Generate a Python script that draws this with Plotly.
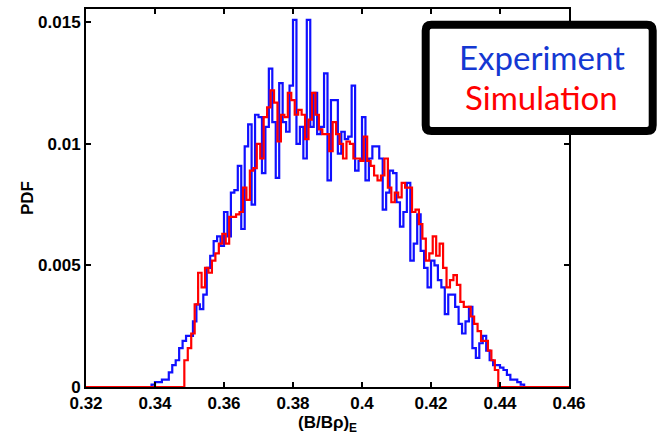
import plotly.graph_objects as go

# ---- data ----
bin_width = 0.001

exp_start = 0.339
exp_pdf = [
    0.0001, 0.0002, 0.0002, 0.0003, 0.0003, 0.0006, 0.0009, 0.0011, 0.0016, 0.0019,
    0.0021, 0.0021, 0.0027, 0.0034, 0.0032, 0.0038, 0.0049, 0.0054, 0.0060, 0.0062,
    0.0058, 0.0072, 0.0062, 0.0080, 0.0081, 0.0091, 0.0065, 0.0099, 0.0108, 0.0075,
    0.0112, 0.0111, 0.0088, 0.0107, 0.0131, 0.0109, 0.0086, 0.0125, 0.0109, 0.0105,
    0.0124, 0.0151, 0.0100, 0.0107, 0.0094, 0.0151, 0.0107, 0.0121, 0.0104, 0.0107,
    0.0129, 0.0085, 0.0118, 0.0118, 0.0096, 0.0105, 0.0102, 0.0103, 0.0124, 0.0089,
    0.0093, 0.0111, 0.0085, 0.0094, 0.0099, 0.0099, 0.0094, 0.0073, 0.0080, 0.0089,
    0.0088, 0.0076, 0.0066, 0.0072, 0.0084, 0.0052, 0.0059, 0.0071, 0.0056, 0.0049,
    0.0041, 0.0052, 0.0050, 0.0044, 0.0041, 0.0030, 0.0038, 0.0038, 0.0033, 0.0026,
    0.0022, 0.0027, 0.0033, 0.0016, 0.0012, 0.0018, 0.0021, 0.0015, 0.0011, 0.0009,
    0.0009, 0.0008, 0.0007, 0.0005, 0.0003, 0.0003, 0.0002, 0.0001,
]

sim_start = 0.3485
sim_pdf = [
    0.0011, 0.0016, 0.0022, 0.0034, 0.0047, 0.0041, 0.0049, 0.0047, 0.0052, 0.0055,
    0.0059, 0.0063, 0.0059, 0.0070, 0.0070, 0.0071, 0.0072, 0.0082, 0.0077, 0.0089,
    0.0090, 0.0100, 0.0094, 0.0111, 0.0115, 0.0122, 0.0117, 0.0101, 0.0112, 0.0111,
    0.0121, 0.0118, 0.0112, 0.0114, 0.0112, 0.0102, 0.0110, 0.0121, 0.0112, 0.0106,
    0.0104, 0.0104, 0.0097, 0.0109, 0.0104, 0.0100, 0.0094, 0.0101, 0.0100, 0.0094,
    0.0094, 0.0093, 0.0103, 0.0093, 0.0091, 0.0087, 0.0085, 0.0087, 0.0094, 0.0082,
    0.0076, 0.0080, 0.0078, 0.0084, 0.0082, 0.0082, 0.0072, 0.0073, 0.0067, 0.0061,
    0.0052, 0.0055, 0.0062, 0.0054, 0.0059, 0.0049, 0.0041, 0.0044, 0.0046, 0.0042,
    0.0035, 0.0033, 0.0033, 0.0029, 0.0026, 0.0023, 0.0019, 0.0019, 0.0015, 0.0011,
    0.0007,
]

x_tick_vals = [0.32, 0.34, 0.36, 0.38, 0.40, 0.42, 0.44, 0.46]
x_tick_text = ["0.32", "0.34", "0.36", "0.38", "0.4", "0.42", "0.44", "0.46"]
y_tick_vals = [0, 0.005, 0.01, 0.015]
y_tick_text = ["0", "0.005", "0.01", "0.015"]
x_range = [0.32, 0.46]
y_range = [0, 0.01555]


def step_xy(start, vals):
    edges = [start + i * bin_width for i in range(len(vals) + 1)]
    xs = [x_range[0]] + edges + [x_range[1]]
    ys = [0] + list(vals) + [0, 0]
    return xs, ys


ex, ey = step_xy(exp_start, exp_pdf)
sx, sy = step_xy(sim_start, sim_pdf)

fig = go.Figure()
fig.add_trace(go.Scatter(x=ex, y=ey, mode="lines", line=dict(color="#1010FF", width=2.2, shape="hv"),
                         name="Experiment", showlegend=False))
fig.add_trace(go.Scatter(x=sx, y=sy, mode="lines", line=dict(color="#FF0000", width=2.2, shape="hv"),
                         name="Simulation", showlegend=False))

tickfont = dict(family="Liberation Sans, Arial", size=17, color="black", weight="bold")
axis_common = dict(showline=True, linecolor="black", linewidth=2, mirror="ticks",
                   ticks="inside", ticklen=5, tickwidth=2, tickcolor="black",
                   showgrid=False, zeroline=False, tickfont=tickfont, automargin=False)

fig.update_xaxes(range=x_range, tickvals=x_tick_vals, ticktext=x_tick_text,
                 title=dict(text="(B/Bρ)<sub>E</sub>", font=tickfont, standoff=0), **axis_common)
fig.update_yaxes(range=y_range, tickvals=y_tick_vals, ticktext=y_tick_text,
                 title=dict(text="PDF", font=tickfont, standoff=0), **axis_common)

# legend box (rounded rectangle, paper coordinates)
bx0, bx1, by0, by1, r = 0.7033, 1.1733, 0.6772, 0.9585, 0.012
ry = r * 483 / 378
box_path = (f"M {bx0 + r},{by0} L {bx1 - r},{by0} Q {bx1},{by0} {bx1},{by0 + ry} "
            f"L {bx1},{by1 - ry} Q {bx1},{by1} {bx1 - r},{by1} "
            f"L {bx0 + r},{by1} Q {bx0},{by1} {bx0},{by1 - ry} "
            f"L {bx0},{by0 + ry} Q {bx0},{by0} {bx0 + r},{by0} Z")
fig.add_shape(type="path", xref="paper", yref="paper", path=box_path,
              line=dict(color="black", width=8), fillcolor="white", layer="above")
fig.add_annotation(xref="paper", yref="paper", x=0.9435, y=0.8738, text="Experiment", showarrow=False,
                   xanchor="center", yanchor="middle",
                   font=dict(family="Lato", size=33, color="#1438D2"))
fig.add_annotation(xref="paper", yref="paper", x=0.9435, y=0.7672, text="Simulation", showarrow=False,
                   xanchor="center", yanchor="middle",
                   font=dict(family="Lato", size=33, color="#FF0000"))

fig.update_layout(width=658, height=437, margin=dict(l=86, r=89, t=9, b=50),
                  plot_bgcolor="white", paper_bgcolor="white")

fig.write_html("out.html", config={"displayModeBar": False},
               post_script="document.body.style.margin='0';document.body.style.overflow='hidden';")
